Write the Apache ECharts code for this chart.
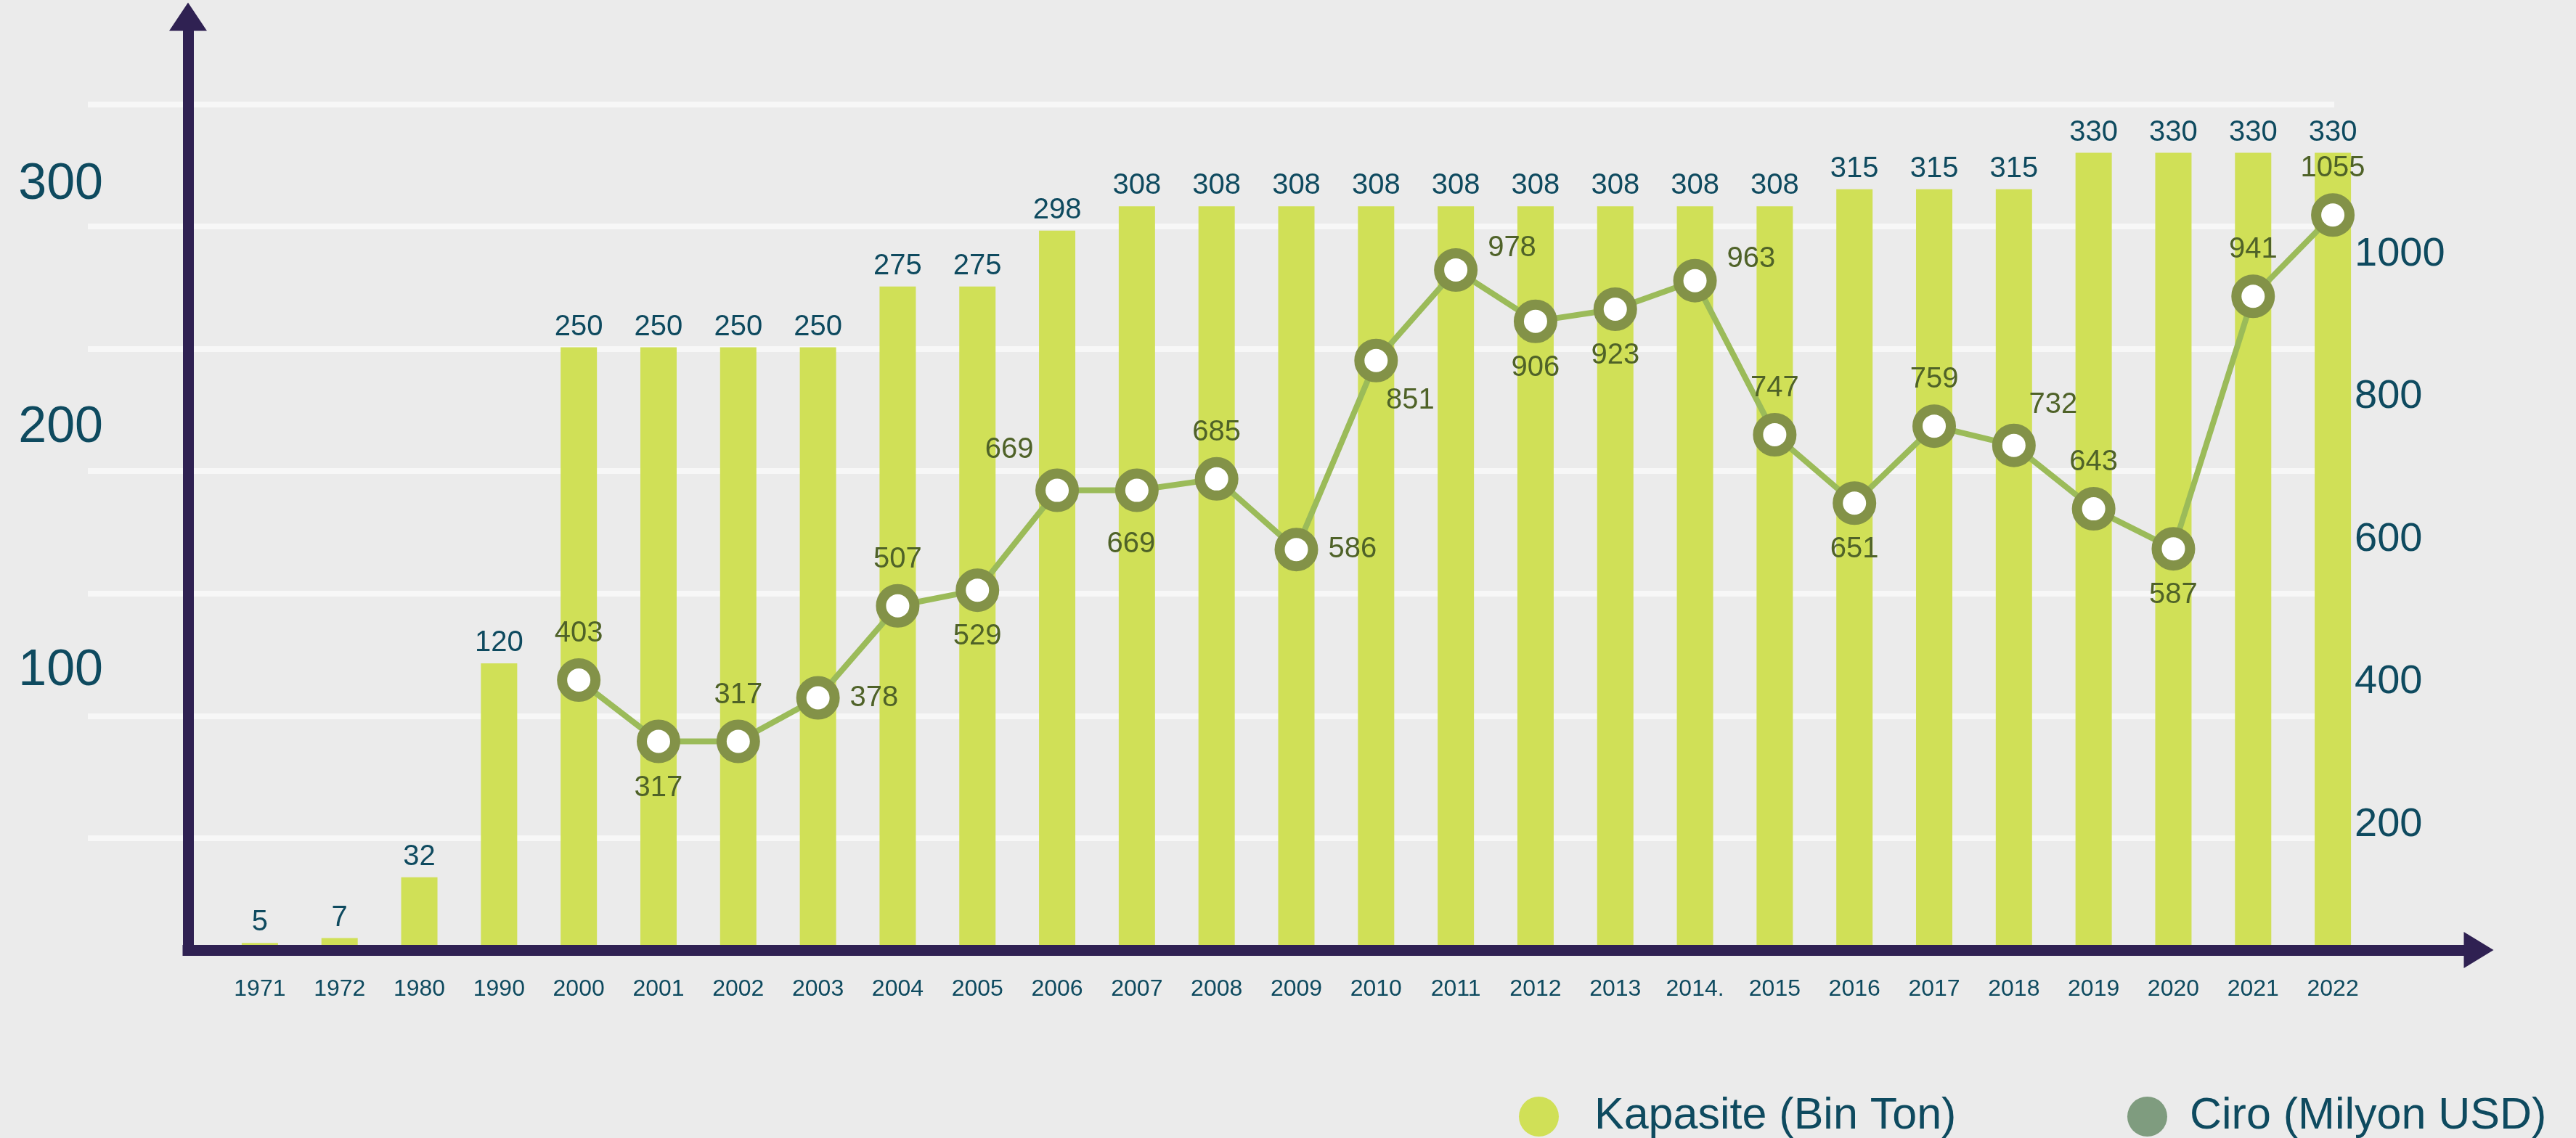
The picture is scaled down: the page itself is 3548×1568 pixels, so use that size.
<!DOCTYPE html>
<html>
<head>
<meta charset="utf-8">
<script src="https://cdn.jsdelivr.net/npm/echarts@6/dist/echarts.min.js"></script>
<style>
html,body{margin:0;padding:0;background:#ebebeb;}
#c{width:3548px;height:1568px;}
</style>
</head>
<body>
<div id="c"></div>
<script>
const categories = ['1971','1972','1980','1990','2000','2001','2002','2003','2004','2005','2006','2007','2008','2009','2010','2011','2012','2013','2014.','2015','2016','2017','2018','2019','2020','2021','2022'];
const capacity = [5,7,32,120,250,250,250,250,275,275,298,308,308,308,308,308,308,308,308,308,315,315,315,330,330,330,330];
const revenue = [null,null,null,null,403,317,317,378,507,529,669,669,685,586,851,978,906,923,963,747,651,759,732,643,587,941,1055];
const leftTicks = [100,200,300];
const rightTicks = [200,400,600,800,1000];
const seriesNames = ['Kapasite (Bin Ton)','Ciro (Milyon USD)'];
const labelSpots = [null,null,null,null,'T','B','T','R','T','B','TL','B2','T','R','BR','RT','B','B','RT','T','B','T','TR','T','B','T','T'];

const FONT = 'Liberation Sans, Arial, sans-serif';
const TEAL = '#0e4a5f';
const spotStyle = {
  T:{position:'top'},
  B:{position:'bottom'},
  B2:{position:'bottom', offset:[-8,10]},
  R:{position:'right'},
  TL:{position:'top', offset:[-66,8]},
  BR:{position:'bottom', offset:[47,-9]},
  RT:{position:'right', offset:[0,-30]},
  TR:{position:'top', offset:[54,8]}
};

const chart = echarts.init(document.getElementById('c'), null, {renderer:'canvas'});
const axisLineStyle = {color:'#2f2152', width:15, cap:'square'};
chart.setOption({
  backgroundColor:'#ebebeb',
  animation:false,
  grid:[
    {left:303, right:280, top:23, bottom:252},
    {left:303, right:280, top:26, bottom:235},
    {left:121, right:333, top:143.5, bottom:244.5},
    {left:259, right:134, top:23, bottom:259}
  ],
  xAxis:[
    {gridIndex:0, type:'category', data:categories, axisLine:{show:false}, axisTick:{show:false},
     axisLabel:{color:TEAL, fontSize:32, fontFamily:FONT, margin:31, interval:0}},
    {gridIndex:1, type:'category', data:categories, show:false},
    {gridIndex:2, type:'value', min:0, max:1, show:false},
    {gridIndex:3, type:'value', min:0, max:1, z:5,
     axisLine:{show:true, symbol:['none','triangle'], symbolSize:[50,41], lineStyle:axisLineStyle},
     axisTick:{show:false}, axisLabel:{show:false}, splitLine:{show:false}}
  ],
  yAxis:[
    {gridIndex:0, type:'value', min:0, max:386, interval:100,
     axisLine:{show:false}, axisTick:{show:false}, splitLine:{show:false},
     axisLabel:{color:TEAL, fontSize:70, fontFamily:FONT, margin:161, lineHeight:112, verticalAlign:'bottom',
       formatter:v => leftTicks.indexOf(v) >= 0 ? String(v) : ''}},
    {gridIndex:1, type:'value', position:'right', min:0, max:1330, interval:200, offset:-25,
     axisLine:{show:false}, axisTick:{show:false}, splitLine:{show:false},
     axisLabel:{color:TEAL, fontSize:56, fontFamily:FONT, margin:0,
       formatter:v => rightTicks.indexOf(v) >= 0 ? String(v) : ''}},
    {gridIndex:2, type:'value', min:0, max:350, interval:50,
     axisLine:{show:false}, axisTick:{show:false}, axisLabel:{show:false},
     splitLine:{show:true, showMinLine:false, lineStyle:{color:'#f7f7f7', width:8}}},
    {gridIndex:3, type:'value', min:0, max:1, z:5,
     axisLine:{show:true, symbol:['none','triangle'], symbolSize:[52,39], lineStyle:axisLineStyle},
     axisTick:{show:false}, axisLabel:{show:false}, splitLine:{show:false}}
  ],
  legend:[
    {data:[seriesNames[0]], left:2087, top:1503, icon:'circle', itemWidth:55, itemHeight:55,
     selectedMode:false, textStyle:{color:TEAL, fontSize:61, fontFamily:FONT, padding:[0,0,0,44]}},
    {data:[seriesNames[1]], left:2925, top:1503, icon:'circle', itemWidth:55, itemHeight:55,
     selectedMode:false, itemStyle:{color:'#7f9c7f', borderWidth:0},
     textStyle:{color:TEAL, fontSize:61, fontFamily:FONT, padding:[0,0,0,26]}}
  ],
  series:[
    {name:seriesNames[0], type:'bar', xAxisIndex:0, yAxisIndex:0, data:capacity, barWidth:50,
     itemStyle:{color:'#d0e057'},
     label:{show:true, position:'top', distance:8, color:TEAL, fontSize:40, fontFamily:FONT}},
    {name:seriesNames[1], type:'line', xAxisIndex:1, yAxisIndex:1,
     data:revenue.map((v,i) => v == null ? null : {value:v, label:spotStyle[labelSpots[i]]}),
     symbol:'circle', symbolSize:46, z:4,
     lineStyle:{color:'#9bbb59', width:8},
     itemStyle:{color:'#ffffff', borderColor:'#839248', borderWidth:14},
     label:{show:true, distance:14, color:'#4f6228', fontSize:40, fontFamily:FONT}}
  ]
});
</script>
</body>
</html>
